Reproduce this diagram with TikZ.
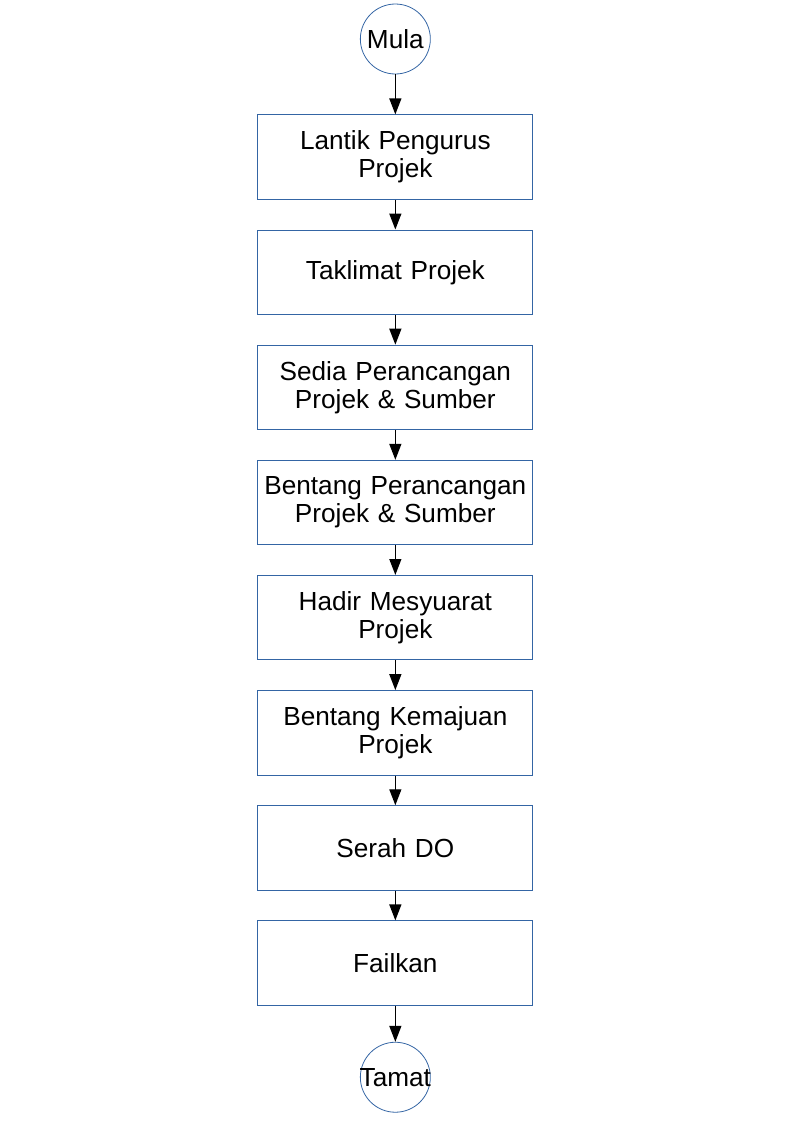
\documentclass[tikz,border=0pt]{standalone}
\usepackage{fontspec}
\setmainfont{Liberation Sans}
\usepackage{tikz}
\usetikzlibrary{positioning}
\usetikzlibrary{shapes}
\usetikzlibrary{arrows.meta}
\definecolor{garis}{HTML}{3465A4}
\tikzstyle{line} = [draw, line width=1pt, -{Triangle[length=12pt,width=9pt]}]
\tikzstyle{kotak} = [draw=garis, line width=0.75pt, rectangle, minimum width=7.276cm, minimum height=2.235cm, text width=7.1cm, align=center, inner sep=0.05cm, font=\fontsize{19.7pt}{21pt}\selectfont]
\tikzstyle{bulat} = [draw=garis, line width=0.6pt, circle, minimum size=1.852cm, inner sep=0pt, font=\fontsize{19.7pt}{21pt}\selectfont]

\begin{document}
\begin{tikzpicture}[node distance=0.785cm]

	\useasboundingbox (-10.46cm,1.032cm) rectangle (10.54cm,-28.68cm);

	\node[bulat] (mula) at (0,0) {Mula};
	\node[kotak, below=1.058cm of mula] (lantik) {Lantik Pengurus\\Projek};
	\node[kotak, below=of lantik] (taklimat) {Taklimat Projek};
	\node[kotak, below=of taklimat] (sedia) {Sedia Perancangan\\Projek \& Sumber};
	\node[kotak, below=of sedia] (bentang) {Bentang Perancangan\\Projek \& Sumber};
	\node[kotak, below=of bentang] (hadir) {Hadir Mesyuarat\\Projek};
	\node[kotak, below=of hadir] (kemajuan) {Bentang Kemajuan\\Projek};
	\node[kotak, below=of kemajuan] (serah) {Serah DO};
	\node[kotak, below=of serah] (failkan) {Failkan};
	\node[bulat, below=0.952cm of failkan] (tamat) {\makebox[0pt]{Tamat}};

	\path [line] (mula) -- (lantik);
	\path [line] (lantik) -- (taklimat);
	\path [line] (taklimat) -- (sedia);
	\path [line] (sedia) -- (bentang);
	\path [line] (bentang) -- (hadir);
	\path [line] (hadir) -- (kemajuan);
	\path [line] (kemajuan) -- (serah);
	\path [line] (serah) -- (failkan);
	\path [line] (failkan) -- (tamat);

\end{tikzpicture}
\end{document}
